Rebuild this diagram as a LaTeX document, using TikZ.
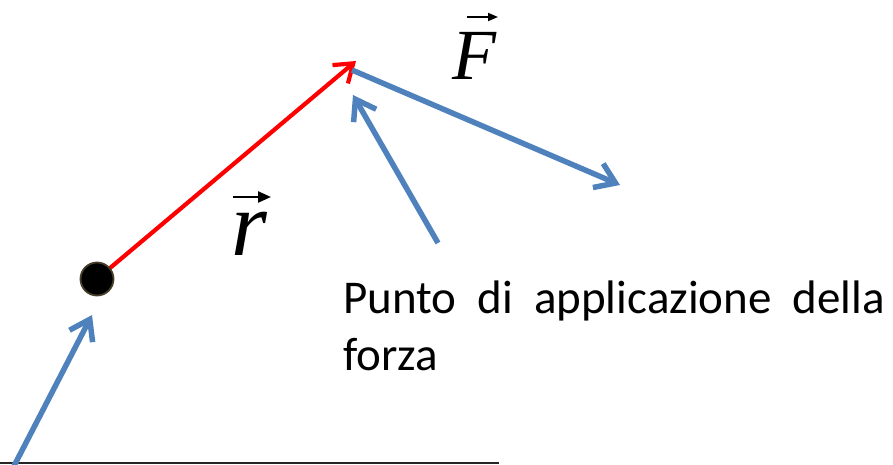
\documentclass[tikz,border=0pt]{standalone}
\usepackage{fontspec}
\setmainfont{Carlito}
\newfontfamily\timesit{Liberation Serif}[UprightFont=* Italic]
\usetikzlibrary{arrows.meta}
\definecolor{pptblue}{RGB}{79,129,189}
\definecolor{dotedge}{RGB}{70,62,40}
\tikzset{
  bluearrow/.style={draw=pptblue, line width=5.5pt, -{Straight Barb[length=19pt,width=26pt,line width=5.5pt]}},
  redarrow/.style={draw=red, line width=4.2pt, -{Straight Barb[length=17pt,width=24pt,line width=4.2pt]}},
  pointdot/.style={circle, fill=black, draw=dotedge, line width=1.8pt, minimum size=33pt, inner sep=0pt},
  bodytext/.style={inner sep=0pt, font=\fontsize{47}{57}\selectfont, anchor=base west},
  veclabel/.style={inner sep=0pt, anchor=base},
  vecaccentF/.style={draw=black, line width=1.8pt, -{Triangle[length=10pt,width=8pt]}},
  vecaccentr/.style={draw=black, line width=2.4pt, -{Triangle[length=13pt,width=11pt]}},
}
\begin{document}
\begin{tikzpicture}[x=1pt, y=-1pt]
\useasboundingbox (0,0) rectangle (893,465);
% coordinates
\coordinate (o) at (97,279);
\coordinate (rtip) at (356,61);
\coordinate (fstart) at (352,70);
\coordinate (fend) at (620,185);
\coordinate (ptail) at (438,243);
\coordinate (phead) at (353,95);
\coordinate (btail) at (14,466);
\coordinate (bhead) at (92,315);
\coordinate (l0) at (0,463);
\coordinate (l1) at (499,463);
\coordinate (Fa0) at (467,17);
\coordinate (Fa1) at (498,17);
\coordinate (ra0) at (233,197);
\coordinate (ra1) at (271,197);
% ground line
\draw[line width=2pt, black!85] (l0) -- (l1);
% position vector
\draw[redarrow] (o) -- (rtip);
\node[pointdot] (dot) at (o) {};
% force
\draw[bluearrow] (fstart) -- (fend);
% pointer arrows
\draw[bluearrow] (ptail) -- (phead);
\draw[bluearrow] (btail) -- (bhead);
% labels
\node[veclabel, font=\fontsize{72}{72}\selectfont] (Flab) at (474,80) {\timesit F};
\draw[vecaccentF] (Fa0) -- (Fa1);
\node[veclabel, font=\fontsize{92}{92}\selectfont] (rlab) at (249,255) {\timesit r};
\draw[vecaccentr] (ra0) -- (ra1);
\node[bodytext] (t1) at (343,313) {\hbox to 542pt{Punto\hfill di\hfill applicazione\hfill della}};
\node[bodytext] (t2) at (343,370) {forza};
\end{tikzpicture}
\end{document}
